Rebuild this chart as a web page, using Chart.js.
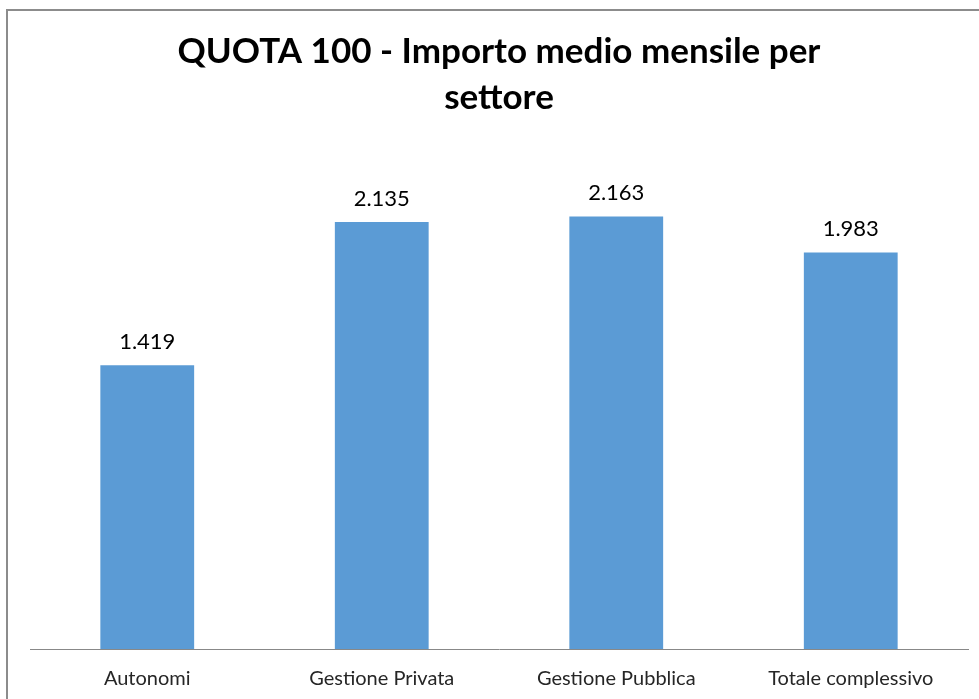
<!DOCTYPE html>
<html>
<head>
<meta charset="utf-8">
<script src="https://cdn.jsdelivr.net/npm/chart.js@4/dist/chart.umd.min.js"></script>
<style>
  html, body { margin: 0; padding: 0; background: #fff; overflow: hidden; }
  #frame { position: absolute; left: 6px; top: 9px; width: 1100px; height: 900px; border: 2px solid #8c8c8c; }
  #wrap { position: absolute; left: 0; top: 0; width: 979px; height: 720px; }
</style>
</head>
<body>
<div id="frame"></div>
<div id="wrap"><canvas id="quota"></canvas></div>
<script>
const titleLines = ["QUOTA 100 - Importo medio mensile per", "settore"];
const categories = ["Autonomi", "Gestione Privata", "Gestione Pubblica", "Totale complessivo"];
const importi = [1419, 2135, 2163, 1983];

// numeri all'italiana: 1.419
const fmt = v => v.toLocaleString("it-IT");

const valueLabels = {
  id: "valueLabels",
  afterDatasetsDraw(chart) {
    const ctx = chart.ctx;
    ctx.save();
    ctx.font = "22px Lato";
    ctx.fillStyle = "#000";
    ctx.textAlign = "center";
    ctx.textBaseline = "bottom";
    chart.getDatasetMeta(0).data.forEach((bar, i) => {
      ctx.fillText(fmt(importi[i]), bar.x, bar.y - 12);
    });
    ctx.restore();
  }
};

new Chart(document.getElementById("quota").getContext("2d"), {
  type: "bar",
  data: {
    labels: categories,
    datasets: [{
      data: importi,
      backgroundColor: "#5b9bd5",
      barPercentage: 0.4,
      categoryPercentage: 1
    }]
  },
  options: {
    responsive: true,
    maintainAspectRatio: false,
    animation: false,
    layout: { padding: { left: 30, right: 11, top: 0, bottom: 11 } },
    plugins: {
      legend: { display: false },
      tooltip: { enabled: false },
      title: {
        display: true,
        text: titleLines,
        color: "#000",
        font: { family: "Lato", size: 35, weight: "bold", lineHeight: 46 / 35 },
        padding: { top: 29, bottom: 28 }
      }
    },
    scales: {
      x: {
        grid: { display: false, drawTicks: false },
        border: { display: true, color: "#888", width: 1 },
        ticks: { color: "#262626", font: { family: "Lato", size: 20 }, padding: 18 }
      },
      y: {
        display: false,
        min: 0,
        max: 2500
      }
    }
  },
  plugins: [valueLabels]
});
</script>
</body>
</html>
